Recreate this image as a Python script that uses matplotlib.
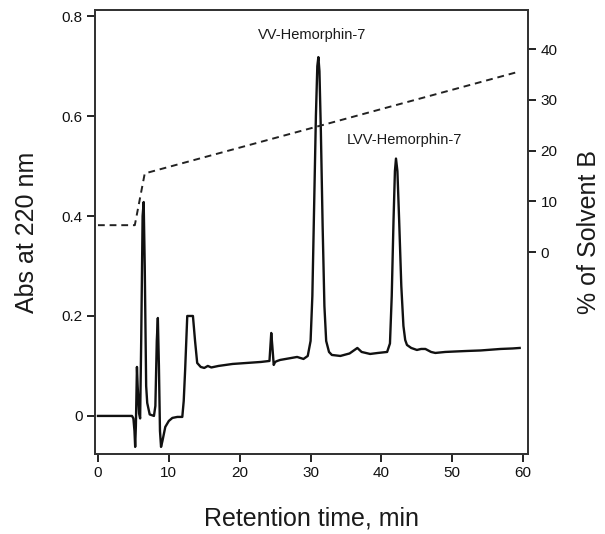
import numpy as np
import matplotlib
matplotlib.use("Agg")
import matplotlib.pyplot as plt

plt.rcParams['font.family'] = ['Liberation Sans', 'DejaVu Sans']

# chromatogram trace
time_min = [0, 4.8, 5.0, 5.15, 5.25, 5.35, 5.5, 5.6, 5.8, 5.95, 6.1, 6.3, 6.45, 6.6, 6.8,
            6.95, 7.3, 7.9, 8.1, 8.3, 8.45, 8.6, 8.75, 8.9, 9.1, 9.5, 10.0, 10.5, 11.2,
            11.9, 12.1, 12.3, 12.6, 13.0, 13.4, 13.7, 14.0, 14.5, 15.0, 15.5, 16.0, 17.0,
            18.0, 19.0, 20.0, 21.0, 22.0, 23.0, 24.2, 24.45, 24.6, 24.8, 25.0, 25.3, 25.7,
            26.5, 27.3, 28.1, 29.0, 29.6, 30.0, 30.25, 30.5, 30.75, 30.95, 31.1, 31.25,
            31.45, 31.7, 31.95, 32.2, 32.6, 33.0, 34.2, 35.5, 36.6, 37.2, 38.4, 39.5, 40.8,
            41.2, 41.45, 41.7, 41.9, 42.05, 42.25, 42.5, 42.8, 43.1, 43.35, 43.6, 44.2,
            45.0, 45.6, 46.2, 47.0, 47.6, 49.0, 50.5, 52.1, 54.0, 56.8, 58.5, 59.5]
abs_220 = [0.0, 0.0, -0.005, -0.03, -0.062, -0.02, 0.098, 0.06, 0.005, -0.005, 0.15, 0.40,
           0.428, 0.30, 0.06, 0.026, 0.003, 0.0, 0.02, 0.15, 0.196, 0.10, -0.03, -0.062,
           -0.05, -0.022, -0.01, -0.004, -0.002, -0.002, 0.03, 0.092, 0.2, 0.2, 0.2, 0.15,
           0.106, 0.098, 0.096, 0.1, 0.097, 0.1, 0.102, 0.104, 0.105, 0.106, 0.107, 0.108,
           0.11, 0.166, 0.14, 0.102, 0.108, 0.11, 0.112, 0.114, 0.116, 0.118, 0.114, 0.12,
           0.15, 0.24, 0.42, 0.6, 0.7, 0.718, 0.69, 0.57, 0.38, 0.22, 0.15, 0.128, 0.122,
           0.12, 0.125, 0.136, 0.128, 0.124, 0.126, 0.128, 0.145, 0.24, 0.39, 0.49, 0.515,
           0.49, 0.39, 0.26, 0.18, 0.152, 0.142, 0.136, 0.132, 0.134, 0.134, 0.128, 0.126,
           0.128, 0.129, 0.13, 0.131, 0.134, 0.135, 0.136]

# solvent B gradient (dashed)
grad_time = [0, 5.2, 6.6, 59.2]
grad_b = [5.3, 5.3, 15.5, 35.5]

abs_ticks = [0, 0.2, 0.4, 0.6, 0.8]
abs_labels = ['0', '0.2', '0.4', '0.6', '0.8']
b_ticks = [0, 10, 20, 30, 40]
time_ticks = [0, 10, 20, 30, 40, 50, 60]

fig = plt.figure(figsize=(6.05, 5.34), dpi=100)
ax = fig.add_axes([0.157, 0.150, 0.716, 0.831])
ax2 = ax.twinx()

ax.plot(time_min, abs_220, color='#111111', lw=1.7, solid_joinstyle='round')
ax2.plot(grad_time, grad_b, color='#222222', lw=1.4, ls=(0, (3.5, 2.5)))

ax.set_xlim(-0.42, 60.7)
ax.set_ylim(-0.076, 0.812)
ax2.set_ylim(-39.8, 47.7)

ax.set_xticks(time_ticks)
ax.set_yticks(abs_ticks)
ax.set_yticklabels(abs_labels)
ax2.set_yticks(b_ticks)

for a in (ax, ax2):
    for s in a.spines.values():
        s.set_linewidth(1.3)
        s.set_color('#333333')
    a.tick_params(length=6, width=1.3, labelsize=11, colors='#111111', pad=3)

ax.set_xlabel('Retention time, min', fontsize=18, labelpad=19, color='#1a1a1a')
ax.set_ylabel('Abs at 220 nm', fontsize=18, labelpad=16, color='#1a1a1a')
ax2.set_ylabel('% of Solvent B', fontsize=18, labelpad=14, color='#1a1a1a')

ax.text(30.2, 0.762, 'VV-Hemorphin-7', ha='center', va='center', fontsize=10.5, color='#1a1a1a')
ax.text(43.2, 0.552, 'LVV-Hemorphin-7', ha='center', va='center', fontsize=10.5, color='#1a1a1a')

fig.savefig('out.png', dpi=100)
